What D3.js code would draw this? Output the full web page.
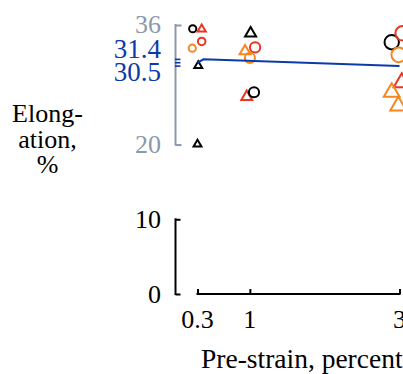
<!DOCTYPE html>
<html>
<head>
<meta charset="utf-8">
<script src="https://cdn.jsdelivr.net/npm/d3@7"></script>
<style>
  html, body { margin: 0; padding: 0; background: #fff; }
  svg { display: block; }
  text { font-family: "Liberation Serif", "Times New Roman", serif; }
</style>
</head>
<body>
<svg id="chart" width="403" height="374"></svg>
<script>
// ---------------- data ----------------
const xTickValues = [0.3, 1, 3];
const xTickLabels = ["0.3", "1", "3"];
const upperTickValues = [36, 20];
const lowerTickValues = [10, 0];
const refTickValues = [31.4, 30.95, 30.5];
const refLabelValues = [31.4, 30.5];
const refLabels = ["31.4", "30.5"];

// scatter points: pre-strain (as plotted), elongation, series, shape
const pointX = [0.236, 0.356, 0.23, 0.356, 0.31, 0.30,
                1.01, 1.07, 0.935, 1.0, 0.958, 1.055,
                2.896, 3.043, 2.99, 3.03, 2.896, 2.984];
const pointY = [35.5, 35.6, 32.9, 33.8, 30.7, 20.2,
                35.1, 33.0, 32.7, 31.6, 26.6, 27.0,
                33.7, 34.9, 32.0, 28.6, 27.3, 25.5];
const pointSeries = ["A", "B", "C", "B", "A", "A",
                     "A", "B", "C", "C", "B", "A",
                     "A", "B", "C", "B", "C", "C"];
const pointShape = ["circle", "triangle", "circle", "circle", "triangle", "triangle",
                    "triangle", "circle", "triangle", "circle", "triangle", "circle",
                    "circle", "circle", "circle", "triangle", "triangle", "triangle"];

// fitted line
const lineX = [0.3, 0.38, 3];
const lineY = [30.95, 31.4, 30.5];

// ---------------- chart ----------------
const svg = d3.select("#chart");
const x = d3.scaleLinear().domain([0.3, 3]).range([197.5, 399.5]);
const y = d3.scaleLinear().domain([0, 36]).range([294, 25]);
const rScale = d3.scaleSqrt().domain([0.3, 3]).range([3.6, 7.3]).clamp(true);
const color = d3.scaleOrdinal().domain(["A", "B", "C"]).range(["#000000", "#ea3520", "#f7861e"]);

const axisX0 = 175.5;
const gray = "#8a98ad";
const blue = "#0d3aa9";
const fs = 26;

// upper y axis (gray bracket)
const gU = svg.append("g").attr("transform", `translate(${axisX0},0)`);
const upperAxis = d3.axisRight(y).tickValues(upperTickValues).tickSize(6).tickFormat("");
gU.call(upperAxis);
gU.select(".domain").remove();
gU.selectAll(".tick line").attr("stroke", gray).attr("stroke-width", 2);
gU.append("line").attr("x1", 0).attr("x2", 0)
  .attr("y1", y(36) - 1).attr("y2", y(20) + 1)
  .attr("stroke", gray).attr("stroke-width", 2);
svg.selectAll(".ulab").data(upperTickValues).join("text")
  .attr("x", 161).attr("y", d => y(d) - 1).attr("dy", "0.35em")
  .attr("text-anchor", "end").attr("font-size", fs).attr("fill", gray)
  .text(d => d);

// reference ticks (blue)
svg.selectAll(".rtick").data(refTickValues).join("line")
  .attr("x1", axisX0 - 0.5).attr("x2", axisX0 + 5)
  .attr("y1", d => y(d)).attr("y2", d => y(d))
  .attr("stroke", blue).attr("stroke-width", 1.6);
const refOffsets = [-11, 5];
svg.selectAll(".rlab").data(refLabelValues).join("text")
  .attr("x", 161).attr("y", (d, i) => y(d) + refOffsets[i]).attr("dy", "0.35em")
  .attr("text-anchor", "end").attr("font-size", fs + 1).attr("fill", blue)
  .text((d, i) => refLabels[i]);

// lower y axis (black bracket)
const gL = svg.append("g").attr("transform", `translate(${axisX0},0)`);
gL.call(d3.axisRight(y).tickValues(lowerTickValues).tickSize(5).tickFormat(""));
gL.select(".domain").remove();
gL.selectAll(".tick line").attr("stroke", "#000").attr("stroke-width", 2);
gL.append("line").attr("x1", 0).attr("x2", 0)
  .attr("y1", y(10) - 1).attr("y2", y(0) + 1)
  .attr("stroke", "#000").attr("stroke-width", 2);
svg.selectAll(".llab").data(lowerTickValues).join("text")
  .attr("x", 161).attr("y", d => y(d)).attr("dy", "0.35em")
  .attr("text-anchor", "end").attr("font-size", fs).attr("fill", "#000")
  .text(d => d);

// x axis
const gX = svg.append("g").attr("transform", `translate(0,${y(0)})`);
gX.call(d3.axisTop(x).tickValues(xTickValues).tickSize(5).tickFormat(""));
gX.select(".domain").remove();
gX.selectAll(".tick line").attr("stroke", "#000").attr("stroke-width", 2);
gX.append("line").attr("x1", x(0.3) - 1).attr("x2", x(3) + 1)
  .attr("y1", 0).attr("y2", 0).attr("stroke", "#000").attr("stroke-width", 2);
svg.selectAll(".xlab").data(xTickValues).join("text")
  .attr("x", d => x(d)).attr("y", 319).attr("dy", "0.35em")
  .attr("text-anchor", "middle").attr("font-size", fs)
  .text((d, i) => xTickLabels[i]);

// axis titles
svg.append("text").attr("x", 201).attr("y", 368)
  .attr("font-size", 27.5).text("Pre-strain, percent");
const yTitle = ["Elong-", "ation,", "%"];
svg.selectAll(".ytl").data(yTitle).join("text")
  .attr("x", 47.5).attr("y", (d, i) => 122 + i * 25.5)
  .attr("text-anchor", "middle").attr("font-size", fs).text(d => d);

// markers
const pts = pointX.map((px, i) => ({x: px, y: pointY[i], s: pointSeries[i], shape: pointShape[i]}));
const tri = r => {
  const s = 2.2 * r, h = s * 0.866;
  return `M0,${-h / 2}L${s / 2},${h / 2}L${-s / 2},${h / 2}Z`;
};
const gP = svg.append("g");
pts.forEach(p => {
  const r = rScale(p.x);
  if (p.shape === "circle") {
    gP.append("circle").attr("cx", x(p.x)).attr("cy", y(p.y)).attr("r", r)
      .attr("fill", "none").attr("stroke", color(p.s)).attr("stroke-width", 2);
  } else {
    gP.append("path").attr("d", tri(r))
      .attr("transform", `translate(${x(p.x)},${y(p.y)})`)
      .attr("fill", "none").attr("stroke", color(p.s)).attr("stroke-width", 2)
      .attr("stroke-linejoin", "miter");
  }
});

// fitted line
const lineData = lineX.map((lx, i) => [lx, lineY[i]]);
svg.append("path").datum(lineData)
  .attr("d", d3.line().x(d => x(d[0])).y(d => y(d[1])))
  .attr("fill", "none").attr("stroke", blue).attr("stroke-width", 2);
</script>
</body>
</html>
